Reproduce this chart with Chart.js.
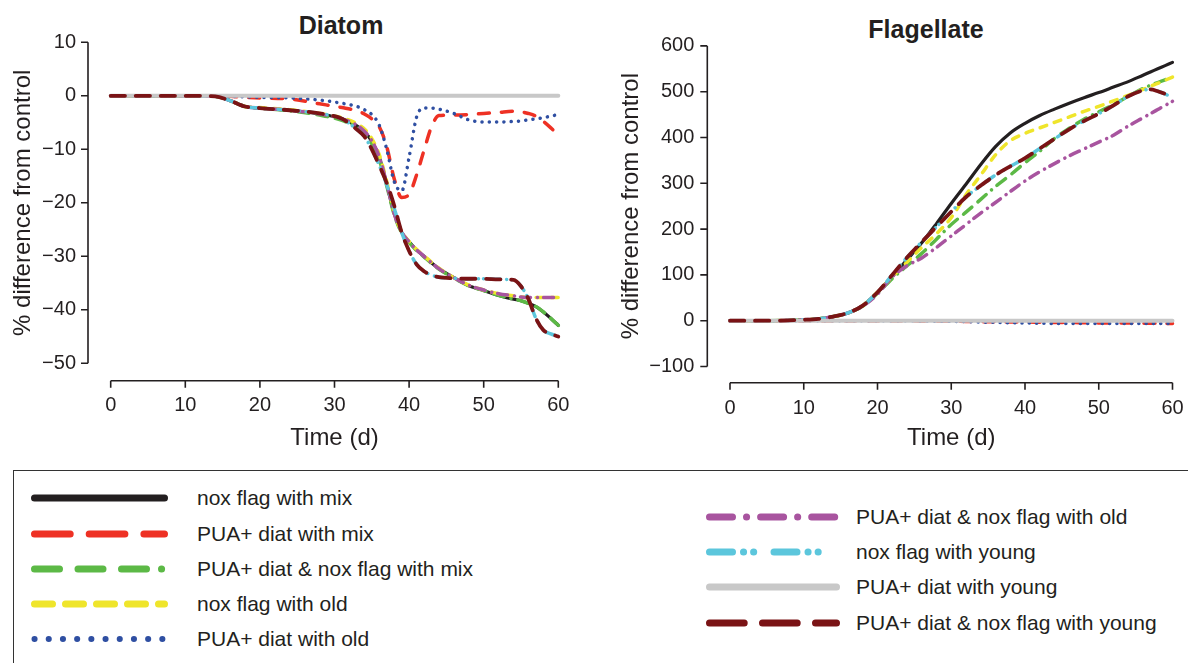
<!DOCTYPE html>
<html>
<head>
<meta charset="utf-8">
<script src="https://cdn.jsdelivr.net/npm/chart.js@4.4.1/dist/chart.umd.min.js"></script>
<style>
  html, body { margin: 0; padding: 0; background: #fff; }
  body { width: 1188px; height: 663px; position: relative; overflow: hidden; font-family: 'Liberation Sans', Arial, sans-serif; color: #231f20; }
  canvas { position: absolute; top: 0; }
  #cDiatom { left: 0; }
  #cFlag { left: 600px; }
  .ptitle { position: absolute; font-weight: bold; font-size: 25px; transform: translate(-50%, -50%); white-space: nowrap; }
  #legend { position: absolute; left: 13px; top: 470px; width: 1200px; height: 220px; border: 1.5px solid #333; box-sizing: border-box; }
  .litem { position: absolute; }
  .litem svg { position: absolute; overflow: visible; }
  .litem span { position: absolute; font-size: 21px; white-space: nowrap; transform: translateY(-50%); }
</style>
</head>
<body>
<div class="ptitle" style="left:341px; top:25px;">Diatom</div>
<div class="ptitle" style="left:926px; top:29px;">Flagellate</div>
<canvas id="cDiatom" width="600" height="470"></canvas>
<canvas id="cFlag" width="588" height="470"></canvas>
<div id="legend"></div>
<script>
const ink = "#231f20";
Chart.defaults.font.family = "'Liberation Sans', Arial, sans-serif";
Chart.defaults.color = ink;

const seriesNames = [
    "nox flag with mix",
    "PUA+ diat with mix",
    "PUA+ diat & nox flag with mix",
    "nox flag with old",
    "PUA+ diat with old",
    "PUA+ diat & nox flag with old",
    "nox flag with young",
    "PUA+ diat with young",
    "PUA+ diat & nox flag with young"
];
const seriesColors = ["#231f20", "#ee3124", "#5cb946", "#efe52b", "#2f4fa2", "#a8549f", "#5cc6dc", "#c8c8c8", "#7a1315"];

const timeTicks = [0, 10, 20, 30, 40, 50, 60];
const diatomYTicks = [10, 0, -10, -20, -30, -40, -50];
const flagYTicks = [600, 500, 400, 300, 200, 100, 0, -100];

// Diatom panel
const diatomDays = [0, 5, 10, 14, 16, 18, 20, 24, 28, 31, 33, 34, 35, 36, 37, 38, 39, 40, 41, 42, 43, 44, 46, 48, 50, 52, 54, 55, 56, 57, 58, 59, 60];
const diatNoxMix     = [0, 0, 0, -0.1, -0.9, -2.0, -2.3, -2.7, -3.4, -4.3, -5.6, -6.7, -8.5, -11.5, -16.5, -22.0, -25.5, -27.3, -28.8, -30.0, -31.2, -32.3, -34.0, -35.5, -36.4, -37.3, -38.0, -38.3, -38.8, -39.4, -40.4, -41.6, -42.9];
const diatPuaMix     = [0, 0, 0, 0, -0.1, -0.3, -0.4, -0.6, -1.5, -2.2, -2.8, -3.4, -4.3, -5.8, -9.5, -15.5, -19.0, -18.4, -14.8, -10.2, -5.8, -3.7, -3.6, -3.5, -3.3, -3.1, -2.9, -3.0, -3.3, -3.8, -4.8, -6.0, -7.3];
const diatBothMix    = [0, 0, 0, -0.1, -0.9, -2.0, -2.3, -2.8, -3.6, -4.6, -5.9, -7.1, -9.0, -12.0, -16.8, -22.2, -25.6, -27.4, -28.9, -30.1, -31.3, -32.4, -34.1, -35.5, -36.4, -37.3, -38.0, -38.3, -38.8, -39.4, -40.4, -41.6, -42.9];
const diatNoxOld     = [0, 0, 0, -0.1, -0.9, -2.0, -2.2, -2.6, -3.3, -4.1, -5.2, -6.2, -8.0, -11.0, -16.0, -21.8, -25.4, -27.2, -28.7, -29.9, -31.1, -32.2, -34.0, -35.4, -36.3, -37.0, -37.4, -37.6, -37.7, -37.7, -37.7, -37.7, -37.7];
const diatPuaOld     = [0, 0, 0, 0, -0.1, -0.2, -0.3, -0.4, -0.8, -1.4, -2.0, -2.6, -3.5, -5.5, -10.0, -16.0, -17.8, -11.5, -4.0, -2.3, -2.3, -2.5, -3.3, -4.5, -4.9, -4.9, -4.8, -4.7, -4.5, -4.3, -4.1, -3.8, -3.5];
const diatBothOld    = [0, 0, 0, -0.1, -0.9, -2.0, -2.3, -2.7, -3.4, -4.3, -5.5, -6.6, -8.4, -11.4, -16.4, -22.0, -25.5, -27.3, -28.8, -30.0, -31.2, -32.3, -34.0, -35.4, -36.3, -37.0, -37.4, -37.6, -37.7, -37.7, -37.7, -37.7, -37.7];
const diatNoxYoung   = [0, 0, 0, -0.1, -0.9, -2.0, -2.3, -2.7, -3.3, -4.3, -6.3, -7.6, -10.0, -13.0, -16.6, -21.0, -25.5, -29.0, -31.5, -32.8, -33.5, -33.9, -34.1, -34.2, -34.2, -34.3, -34.4, -35.6, -38.0, -41.6, -43.8, -44.5, -45.0];
const diatPuaYoung   = [0, 0, 0, 0, 0, 0, 0, 0, 0, 0, 0, 0, 0, 0, 0, 0, 0, 0, 0, 0, 0, 0, 0, 0, 0, 0, 0, 0, 0, 0, 0, 0, 0];
const diatBothYoung  = [0, 0, 0, -0.1, -0.9, -2.0, -2.3, -2.7, -3.3, -4.3, -6.3, -7.6, -10.0, -13.0, -16.3, -20.5, -25.5, -29.0, -31.5, -32.8, -33.5, -33.9, -34.1, -34.2, -34.2, -34.3, -34.4, -35.6, -38.0, -41.6, -43.8, -44.5, -45.0];

// Flagellate panel
const flagDays = [0, 5, 10, 12, 14, 16, 18, 20, 22, 24, 26, 28, 30, 32, 34, 36, 38, 40, 42, 44, 46, 48, 50, 52, 54, 56, 57, 58, 59, 60];
const flagNoxMix     = [0, 0, 2, 4, 9, 17, 33, 62, 97, 133, 170, 212, 256, 298, 341, 380, 410, 431, 448, 462, 475, 487, 498, 510, 522, 536, 543, 550, 557, 564];
const flagPuaMix     = [0, 0, 0, 0, 0, 0, 0, 0, 0, 0, -0.5, -0.5, -1, -1.5, -2, -2.5, -3, -3, -3.5, -4, -4, -4.5, -5, -5, -5, -5.5, -5.5, -5.5, -6, -6];
const flagBothMix    = [0, 0, 2, 4, 9, 17, 32, 60, 92, 120, 147, 178, 210, 237, 265, 293, 318, 345, 370, 398, 420, 440, 456, 472, 490, 507, 514, 520, 526, 532];
const flagNoxOld     = [0, 0, 2, 4, 9, 17, 33, 62, 96, 128, 160, 190, 225, 275, 318, 362, 393, 409, 421, 433, 445, 457, 468, 480, 492, 505, 512, 518, 525, 532];
const flagPuaOld     = [0, 0, 0, 0, 0, 0, 0, 0, 0, 0, -0.5, -1, -1.5, -2, -3, -3.5, -4.5, -5, -5.5, -6, -6, -6, -6, -6, -6, -6, -6, -6, -6, -6];
const flagBothOld    = [0, 0, 2, 4, 9, 17, 32, 58, 96, 120, 137, 160, 185, 210, 235, 258, 282, 305, 325, 343, 360, 375, 390, 405, 425, 443, 452, 461, 470, 479];
const flagNoxYoung   = [0, 0, 2, 4, 9, 17, 33, 62, 100, 138, 172, 205, 238, 270, 295, 318, 337, 355, 376, 397, 418, 436, 452, 470, 490, 503, 505, 501, 495, 487];
const flagPuaYoung   = [0, 0, 0, 0, 0, 0, 0, 0, 0, 0, 0, 0, 0, 0, 0, 0, 0, 0, 0, 0, 0, 0, 0, 0, 0, 0, 0, 0, 0, 0];
const flagBothYoung  = [0, 0, 2, 4, 9, 17, 33, 62, 100, 138, 172, 205, 238, 270, 295, 318, 337, 355, 376, 397, 418, 436, 452, 470, 490, 503, 505, 501, 495, 486];

const diatomSeries = [diatNoxMix, diatPuaMix, diatBothMix, diatNoxOld, diatPuaOld, diatBothOld, diatNoxYoung, diatPuaYoung, diatBothYoung];
const flagSeries = [flagNoxMix, flagPuaMix, flagBothMix, flagNoxOld, flagPuaOld, flagBothOld, flagNoxYoung, flagPuaYoung, flagBothYoung];

// line looks in the plots
const plotDash = [[], [11, 12], [11, 8, 11, 8, 11, 7, 0.1, 7], [7, 8], [0.1, 7.2], [10, 7, 0.1, 6], [10, 6, 0.1, 5, 0.1, 7], [], [14.3, 10.7]];
const plotWidth = [3.2, 3.5, 3.5, 3.5, 3.5, 3.5, 3.5, 4, 3.8];
// line looks in the legend
const legendDash = ["", "35.7 19", "25 18.5 25 18.5 25 15 0.1 40", "18 13", "0.1 14.1", "23 14 0.1 14", "23 11 0.1 10 0.1 20.3", "", "34.7 18.3"];

function minusFmt(v) {
    return v < 0 ? "\u2212" + Math.abs(v) : String(v);
}

// draws axes detached from the plot, like the original figure
const offsetAxes = {
    id: "offsetAxes",
    afterDraw(chart, args, opts) {
        const { ctx, chartArea, scales: { x, y } } = chart;
        const ax = chartArea.left - opts.yGap;
        const ay = chartArea.bottom + opts.xGap;
        const xt = opts.xTicks, yt = opts.yTicks;
        ctx.save();
        ctx.strokeStyle = ink;
        ctx.lineWidth = 1.6;
        ctx.beginPath();
        ctx.moveTo(ax, y.getPixelForValue(yt[0]));
        ctx.lineTo(ax, y.getPixelForValue(yt[yt.length - 1]));
        yt.forEach(v => {
            const py = y.getPixelForValue(v);
            ctx.moveTo(ax, py);
            ctx.lineTo(ax - 7, py);
        });
        ctx.moveTo(x.getPixelForValue(xt[0]), ay);
        ctx.lineTo(x.getPixelForValue(xt[xt.length - 1]), ay);
        xt.forEach(v => {
            const px = x.getPixelForValue(v);
            ctx.moveTo(px, ay);
            ctx.lineTo(px, ay + 7);
        });
        ctx.stroke();
        ctx.restore();
    }
};

function buildDatasets(days, series) {
    return series.map((vals, i) => ({
        label: seriesNames[i],
        data: days.map((d, k) => ({ x: d, y: vals[k] })),
        borderColor: seriesColors[i],
        borderWidth: plotWidth[i],
        borderDash: plotDash[i],
        borderCapStyle: "round",
        pointRadius: 0,
        cubicInterpolationMode: "monotone",
        clip: 10,
        order: series.length - 1 - i
    }));
}

function makePanel(canvas, days, series, yTicks, cfg) {
    return new Chart(canvas, {
        type: "line",
        data: { datasets: buildDatasets(days, series) },
        plugins: [offsetAxes],
        options: {
            responsive: false,
            animation: false,
            devicePixelRatio: 1,
            layout: { padding: { left: cfg.padLeft, right: cfg.padRight, top: cfg.padTop, bottom: 0 } },
            plugins: {
                legend: { display: false },
                tooltip: { enabled: false },
                offsetAxes: { xGap: cfg.xGap, yGap: cfg.yGap, xTicks: timeTicks, yTicks: yTicks }
            },
            scales: {
                x: {
                    type: "linear",
                    min: timeTicks[0],
                    max: timeTicks[timeTicks.length - 1],
                    afterBuildTicks: s => { s.ticks = timeTicks.map(v => ({ value: v })); },
                    afterFit: s => { s.height = cfg.xHeight; },
                    // grid hidden; tick length only reserves room for the detached axis
                    grid: { display: false, drawTicks: true, tickLength: cfg.xTickPad },
                    border: { display: false },
                    ticks: { font: { size: 20 }, padding: 0, maxRotation: 0 },
                    title: { display: true, text: "Time (d)", font: { size: 24 }, padding: { top: 4, bottom: 17.6 } }
                },
                y: {
                    type: "linear",
                    min: yTicks[yTicks.length - 1],
                    max: yTicks[0],
                    afterBuildTicks: s => { s.ticks = yTicks.map(v => ({ value: v })); },
                    afterFit: s => { s.width = cfg.yWidth; },
                    grid: { display: false, drawTicks: true, tickLength: cfg.yTickPad },
                    border: { display: false },
                    ticks: { font: { size: 20 }, padding: 0, callback: v => minusFmt(v) },
                    title: { display: true, text: "% difference from control", font: { size: 24 }, padding: { top: 4, bottom: 4 } }
                }
            }
        }
    });
}

makePanel(document.getElementById("cDiatom"), diatomDays, diatomSeries, diatomYTicks, {
    padLeft: 4.6, padRight: 41.7, padTop: 42.3,
    yWidth: 106.1, xHeight: 106.7,
    xGap: 17.4, yGap: 22.7, xTickPad: 30, yTickPad: 34.7
});

makePanel(document.getElementById("cFlag"), flagDays, flagSeries, flagYTicks, {
    padLeft: 13.3, padRight: 15.5, padTop: 45.9,
    yWidth: 116.7, xHeight: 103.5,
    xGap: 16.2, yGap: 22.7, xTickPad: 30, yTickPad: 35.7
});

// legend box below the panels
const legendRows = [
    { col: 0, y: 27 }, { col: 0, y: 62.5 }, { col: 0, y: 98 }, { col: 0, y: 132.5 }, { col: 0, y: 167.5 },
    { col: 1, y: 46 }, { col: 1, y: 81 }, { col: 1, y: 116 }, { col: 1, y: 151.5 }
];
const legendCols = [{ x1: 20.5, x2: 150.5, text: 183 }, { x1: 695.5, x2: 822.5, text: 842 }];
const legendEl = document.getElementById("legend");
seriesNames.forEach((name, i) => {
    const r = legendRows[i], c = legendCols[r.col];
    const item = document.createElement("div");
    item.className = "litem";
    item.style.left = "0px";
    item.style.top = r.y + "px";
    const w = (i === 4) ? 6 : 7;
    item.innerHTML =
        '<svg width="1" height="1" style="left:0;top:0"><line x1="' + c.x1 + '" y1="0" x2="' + c.x2 + '" y2="0" stroke="' + seriesColors[i] +
        '" stroke-width="' + w + '" stroke-linecap="round"' + (legendDash[i] ? ' stroke-dasharray="' + legendDash[i] + '"' : '') + '/></svg>' +
        '<span style="left:' + c.text + 'px;top:0">' + name + '</span>';
    legendEl.appendChild(item);
});
</script>
</body>
</html>
